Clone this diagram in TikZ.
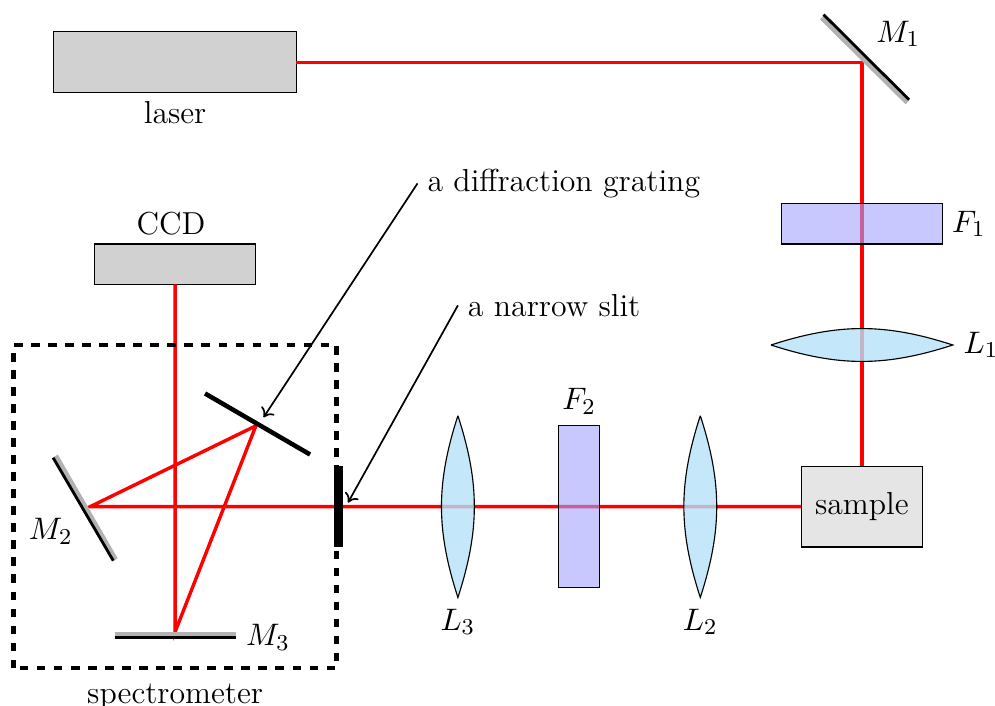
\documentclass[tikz,border=0pt]{standalone}
\usetikzlibrary{arrows.meta}
\definecolor{lensblue}{RGB}{181,226,249}
\begin{document}
\begin{tikzpicture}[scale=0.5, every node/.style={font=\fontsize{11.2}{13}\selectfont},
    beam/.style={red,line width=1.2pt},
    greybox/.style={draw,fill=gray!36,line width=0.4pt,inner sep=0pt,outer sep=0pt},
    filterbox/.style={draw,fill=blue!36,fill opacity=0.6,line width=0.4pt,inner sep=0pt,outer sep=0pt},
    lensglass/.style={fill=lensblue,fill opacity=0.8},
    mirrorback/.style={gray!60,line width=1.6pt},
    mirrorfront/.style={black,line width=1pt},
    pointer/.style={-{To[length=3pt,width=5.5pt]},line width=0.6pt}]
  \useasboundingbox (-4.335,-4.935) rectangle (20.295,12.54);

  % points where the beam turns
  \coordinate (turn1) at (17,11);
  \coordinate (slitpt) at (4.05,0);
  \coordinate (hitG) at (2,2);
  \coordinate (hitM2) at (-2.1,0);
  \coordinate (hitM3) at (0,-3.1);

  % sources and detector
  \node[greybox,minimum width=3cm,minimum height=0.75cm] (laser) at (0,11) {};
  \node[greybox,minimum width=2cm,minimum height=0.5cm] (ccd) at (0,6) {};
  \node[greybox,fill=gray!20,minimum width=1.5cm,minimum height=1cm] (sample) at (17,0) {sample};

  % laser beam
  \draw[beam] (laser.east) -- (turn1) -- (sample.north);
  \draw[beam] (sample.west) -- (hitM2) -- (hitG) -- (hitM3) -- (ccd.south);

  % filters
  \node[filterbox,minimum width=2cm,minimum height=0.5cm] (f1) at (17,7) {};
  \node[filterbox,minimum width=0.5cm,minimum height=2cm] (f2) at (10,0) {};

  % lenses
  \coordinate (l1a) at (14.75,4);
  \coordinate (l1b) at (19.25,4);
  \coordinate (l2a) at (13,2.25);
  \coordinate (l2b) at (13,-2.25);
  \coordinate (l3a) at (7,2.25);
  \coordinate (l3b) at (7,-2.25);
  \fill[lensglass] (l1a) to[bend left=18] (l1b) to[bend left=18] (l1a);
  \draw[line width=0.4pt] (l1a) to[bend left=18] (l1b) to[bend left=18] (l1a);
  \fill[lensglass] (l2a) to[bend left=18] (l2b) to[bend left=18] (l2a);
  \draw[line width=0.4pt] (l2a) to[bend left=18] (l2b) to[bend left=18] (l2a);
  \fill[lensglass] (l3a) to[bend left=18] (l3b) to[bend left=18] (l3a);
  \draw[line width=0.4pt] (l3a) to[bend left=18] (l3b) to[bend left=18] (l3a);

  % mirrors
  \draw[mirrorback] (16.0,12.1) -- (18.12,10.0);
  \draw[mirrorfront] (16.05,12.18) -- (18.17,10.07);
  \draw[mirrorback] (-2.95,1.26) -- (-1.47,-1.31);
  \draw[mirrorfront] (-3.02,1.21) -- (-1.53,-1.34);
  \draw[mirrorback] (-1.5,-3.16) -- (1.5,-3.16);
  \draw[mirrorfront] (-1.5,-3.24) -- (1.5,-3.24);

  % grating and slit
  \draw[line width=1.6pt] (0.74,2.8) -- (3.34,1.29);
  \draw[line width=3pt] (slitpt) ++(0,1) -- ++(0,-2);

  % spectrometer
  \draw[line width=1.6pt,dashed] (-4,-4) rectangle (4,4);

  % labels
  \node (lbllaser) at (0,9.75) {laser};
  \node (lblccd) at (-0.1,7) {CCD};
  \node (lblspec) at (0,-4.7) {spectrometer};
  \node (lblM1) at (17.9,11.7) {\(M_1\)};
  \node (lblM2) at (-3.08,-0.62) {\(M_2\)};
  \node (lblM3) at (2.3,-3.23) {\(M_3\)};
  \node (lblF1) at (19.65,7) {\(F_1\)};
  \node (lblF2) at (10,2.6) {\(F_2\)};
  \node (lblL1) at (19.95,4) {\(L_1\)};
  \node (lblL2) at (13,-2.85) {\(L_2\)};
  \node (lblL3) at (7,-2.85) {\(L_3\)};
  \node[right] (lblgrating) at (6,8) {a diffraction grating};
  \node[right] (lblslit) at (7,4.98) {a narrow slit};

  % arrows to the parts
  \coordinate (tipG) at (2.19,2.21);
  \draw[pointer] (lblgrating.west) -- (tipG);
  \coordinate (tipS) at (4.28,0.1);
  \draw[pointer] (lblslit.west) -- (tipS);
\end{tikzpicture}
\end{document}
